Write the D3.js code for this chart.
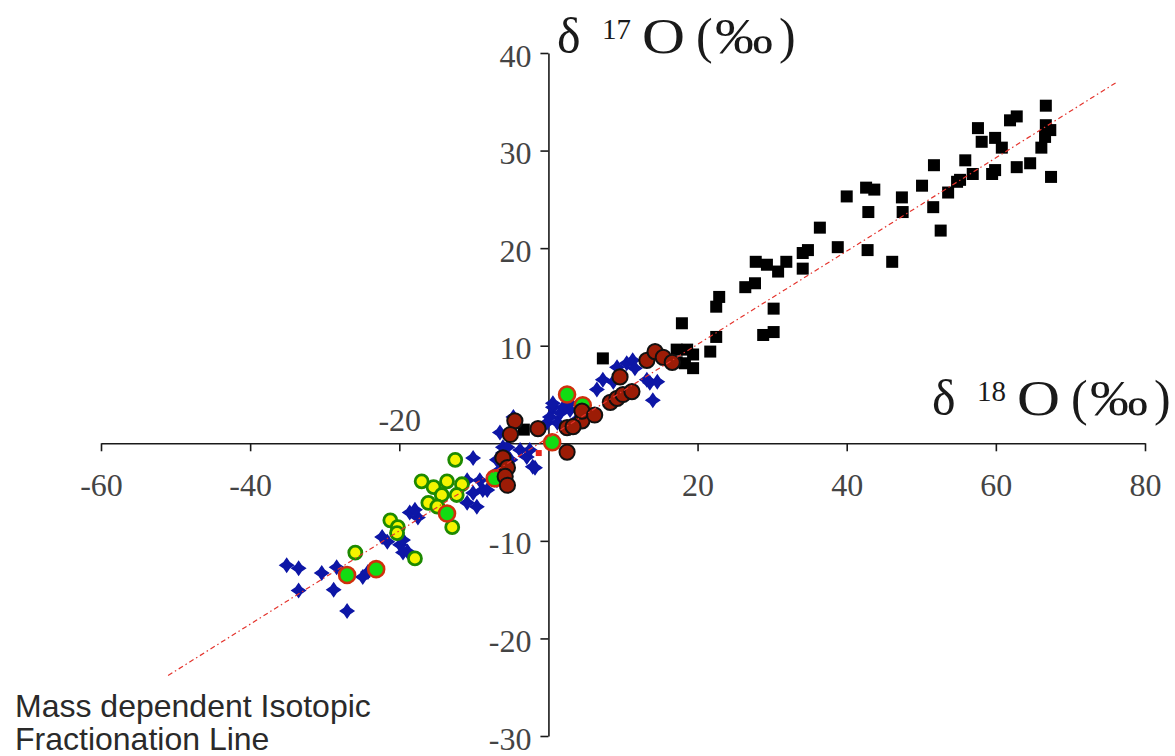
<!DOCTYPE html>
<html>
<head>
<meta charset="utf-8">
<script src="https://cdn.jsdelivr.net/npm/d3@7"></script>
<style>
  body { margin: 0; background: #fff; }
  svg { display: block; }
</style>
</head>
<body>
<svg id="chart"></svg>
<script>
// tick values
const xTicks = [-60, -40, -20, 20, 40, 60, 80];
const yTicks = [-30, -20, -10, 10, 20, 30, 40];

// mass dependent fractionation line (end points, per mil)
const fractionationLine = [[-51.0, -23.8], [76.2, 37.0]];

// [d18O, d17O] per series
const blackSquares = [
  [66.7,34.6],[62.8,33.5],[61.9,33.1],[57.6,32.3],[58.1,30.9],[59.9,31.3],[60.8,30.3],[66.7,32.6],
  [67.3,32.1],[66.6,31.4],[66.1,30.3],[55.9,29.0],[56.9,27.6],[59.5,27.6],[59.9,28.0],[62.8,28.3],
  [64.6,28.7],[67.4,27.3],[55.2,27.0],[51.7,28.5],[50.1,26.4],[54.8,26.8],[53.6,25.7],[47.4,25.2],
  [47.5,23.7],[51.6,24.2],[52.6,21.8],[40.0,25.3],[42.6,26.2],[43.7,26.0],[42.9,23.7],[36.4,22.1],
  [38.8,20.1],[42.8,19.8],[46.1,18.6],[27.8,18.6],[29.3,18.3],[30.8,17.6],[31.9,18.6],[34.1,19.5],
  [34.8,19.8],[34.1,17.9],[26.4,16.0],[27.7,16.4],[22.9,15.0],[22.5,14.0],[30.2,13.8],[22.5,10.9],
  [21.7,9.4],[28.8,11.1],[30.2,11.4],[17.9,12.3],[7.3,8.7],[17.2,9.6],[18.6,9.6],[19.4,9.1],
  [18.3,8.2],[19.4,7.7],[17.2,8.3],[-3.3,1.4]
];

const blueStars = [
  [-35.1,-12.5],[-33.5,-12.8],[-30.4,-13.3],[-28.4,-12.7],[-33.5,-15.1],[-28.8,-15.0],[-27.0,-17.2],
  [-24.9,-13.7],[-24.2,-13.2],[-22.3,-9.6],[-21.6,-10.1],[-20.3,-9.2],[-19.9,-10.4],[-19.5,-9.9],
  [-18.9,-11.1],[-19.5,-11.2],[-18.6,-7.1],[-17.5,-7.6],[-17.9,-6.8],[-10.9,-3.8],[-10.1,-1.5],
  [-9.2,-3.8],[-10.1,-5.1],[-8.8,-4.8],[-9.6,-6.5],[-10.9,-6.1],[-8.2,-4.8],[-6.9,-1.7],[-6.5,-2.7],
  [-6.9,-3.8],[-6.1,-0.4],[-5.5,-0.4],[-6.5,1.1],[-5.4,0.9],[-4.7,2.7],[-6.1,-1.0],[-5.1,-1.7],
  [-3.8,-0.7],[-2.9,-1.4],[-2.1,-2.4],[-2.5,-0.7],[-1.8,-2.5],[-0.2,2.1],[0.2,2.7],[0.6,3.7],
  [1.2,2.1],[1.6,3.1],[2.0,3.7],[2.9,3.4],[3.8,2.4],[0.6,4.1],[2.9,4.1],[6.5,5.5],[7.3,6.5],
  [8.7,6.3],[9.2,7.8],[10.5,8.2],[11.3,8.5],[11.6,7.7],[13.2,6.5],[13.6,6.2],[14.6,6.3],[14.0,4.4]
];

const yellowCircles = [
  [-12.5,-1.7],[-17.0,-3.9],[-15.4,-4.5],[-13.6,-3.9],[-11.6,-4.2],[-14.3,-5.3],[-12.3,-5.3],
  [-16.1,-6.1],[-14.9,-6.5],[-12.9,-8.6],[-21.2,-7.9],[-20.2,-8.6],[-20.3,-9.2],[-17.9,-11.8],
  [-25.9,-11.2]
];

const greenCircles = [
  [2.5,5.0],[4.6,3.9],[0.5,0.1],[-7.2,-3.6],[-13.6,-7.2],[-27.0,-13.5],[-23.1,-12.9]
];

const darkRedCircles = [
  [-4.5,2.3],[-1.4,1.5],[-5.1,0.9],[-6.1,-1.5],[-5.5,-2.5],[-5.8,-3.4],[-5.5,-4.3],
  [2.5,1.6],[4.5,2.3],[4.5,3.3],[6.2,2.9],[2.5,-0.9],[3.3,1.7],[8.3,4.2],[9.2,4.6],
  [10.0,5.0],[11.2,5.3],[9.6,6.8],[13.2,8.5],[14.3,9.4],[15.4,8.8],[16.6,8.3]
];

const redSquares = [[-1.3,-1.0]];

const width = 1175, height = 756;

const svg = d3.select("#chart")
    .attr("width", width)
    .attr("height", height);

const x = d3.scaleLinear().domain([-60, 80]).range([101, 1145]);
const y = d3.scaleLinear().domain([-30, 40]).range([736, 53]);

// plain hyphen minus like the original
const fmt = d => String(d);

// x axis through y = 0
const gx = svg.append("g")
    .attr("transform", `translate(0,${y(0)})`)
    .call(d3.axisBottom(x).tickValues(xTicks).tickFormat(fmt).tickSize(8).tickSizeOuter(0));
gx.selectAll("text").attr("y", 53).attr("dy", null);
gx.selectAll(".tick").filter(d => d === -20).select("text").attr("y", -12);

// y axis through x = 0
const gy = svg.append("g")
    .attr("transform", `translate(${x(0)},0)`)
    .call(d3.axisLeft(y).tickValues(yTicks).tickFormat(fmt).tickSize(8).tickSizeOuter(0));
gy.selectAll("text").attr("x", -17).attr("y", 13).attr("dy", null);

[gx, gy].forEach(g => {
    g.attr("font-family", "'Liberation Serif', 'Times New Roman', serif").attr("font-size", 32);
    g.selectAll(".domain, line").attr("stroke", "#1a1a1a").attr("stroke-width", 1.6);
    g.selectAll("text").attr("fill", "#444");
});

// 4 point star
function star4(ro, ri) {
    const pts = [];
    for (let i = 0; i < 8; i++) {
        const a = i * Math.PI / 4 - Math.PI / 2;
        const r = i % 2 ? ri : ro;
        pts.push([r * Math.cos(a), r * Math.sin(a)]);
    }
    return "M" + pts.join("L") + "Z";
}

const pos = d => `translate(${x(d[0])},${y(d[1])})`;

svg.append("g").selectAll("rect")
    .data(blackSquares)
    .enter().append("rect")
    .attr("x", d => x(d[0]) - 6)
    .attr("y", d => y(d[1]) - 6)
    .attr("width", 12).attr("height", 12)
    .attr("fill", "#000");

svg.append("g").selectAll("path")
    .data(blueStars)
    .enter().append("path")
    .attr("transform", pos)
    .attr("d", star4(8, 4.6))
    .attr("fill", "#0d16a6");

svg.append("g").selectAll("circle")
    .data(yellowCircles)
    .enter().append("circle")
    .attr("cx", d => x(d[0])).attr("cy", d => y(d[1]))
    .attr("r", 6.5)
    .attr("fill", "#f4f400")
    .attr("stroke", "#1d8a00").attr("stroke-width", 2.8);

svg.append("g").selectAll("circle")
    .data(greenCircles)
    .enter().append("circle")
    .attr("cx", d => x(d[0])).attr("cy", d => y(d[1]))
    .attr("r", 8)
    .attr("fill", "#12dc12")
    .attr("stroke", "#d0300c").attr("stroke-width", 2.6);

svg.append("g").selectAll("circle")
    .data(darkRedCircles)
    .enter().append("circle")
    .attr("cx", d => x(d[0])).attr("cy", d => y(d[1]))
    .attr("r", 7.6)
    .attr("fill", "#9c1c06")
    .attr("stroke", "#111").attr("stroke-width", 2);

svg.append("g").selectAll("rect")
    .data(redSquares)
    .enter().append("rect")
    .attr("x", d => x(d[0]) - 3)
    .attr("y", d => y(d[1]) - 3)
    .attr("width", 6).attr("height", 6)
    .attr("fill", "#e8241c");

svg.append("path")
    .datum(fractionationLine)
    .attr("d", d3.line().x(d => x(d[0])).y(d => y(d[1])))
    .attr("fill", "none")
    .attr("stroke", "#e4332c")
    .attr("stroke-width", 1.2)
    .attr("stroke-dasharray", "5,3,1.5,3");

// axis titles
function axisTitle(x0, base, sup) {
    const t = svg.append("text")
        .attr("x", x0).attr("y", base)
        .attr("font-family", "'Liberation Serif', 'Times New Roman', serif")
        .attr("font-size", 50)
        .attr("fill", "#1a1a1a");
    t.append("tspan").text("δ");
    t.append("tspan").attr("x", x0 + 45).attr("dy", -14).attr("font-size", 29).text(sup);
    t.append("tspan").attr("x", x0 + 85).attr("dy", 14)
        .attr("textLength", 43).attr("lengthAdjust", "spacingAndGlyphs").text("O");
    t.append("tspan").attr("x", x0 + 139).text("(");
    t.append("tspan").attr("x", x0 + 158)
        .attr("textLength", 58).attr("lengthAdjust", "spacingAndGlyphs").text("‰");
    t.append("tspan").attr("x", x0 + 222).text(")");
}
axisTitle(557, 53, "17");
axisTitle(932, 415, "18");

// note bottom left
const note = svg.append("text")
    .attr("font-family", "'Liberation Sans', Arial, sans-serif")
    .attr("font-size", 32)
    .attr("fill", "#2a2a2a");
note.append("tspan").attr("x", 15).attr("y", 717).text("Mass dependent Isotopic");
note.append("tspan").attr("x", 15).attr("y", 750).text("Fractionation Line");
</script>
</body>
</html>
